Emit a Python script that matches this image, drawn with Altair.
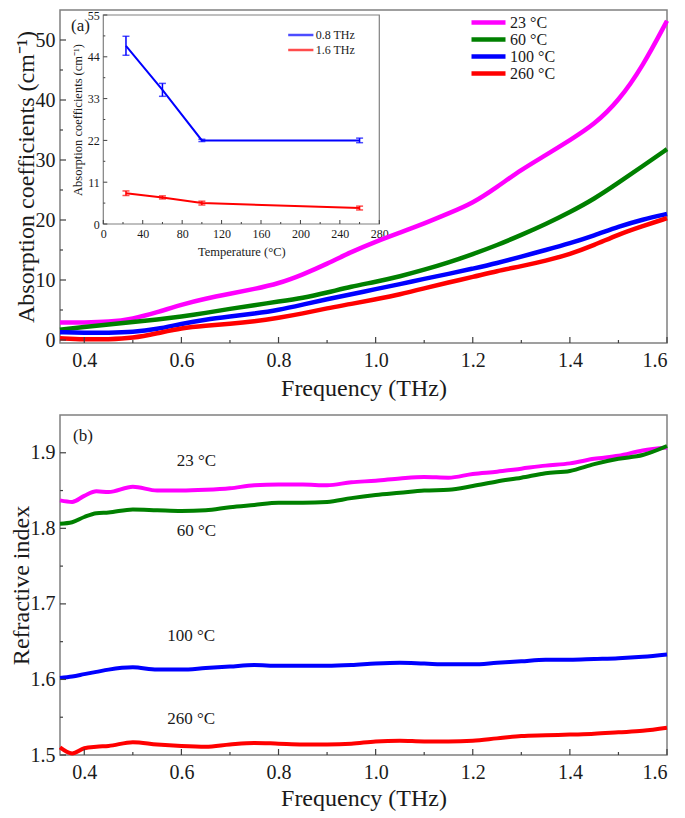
import altair as alt
import pandas as pd

# ---------------- data ----------------
freq_a = [0.35, 0.40, 0.45, 0.50, 0.55, 0.60, 0.65, 0.70, 0.75, 0.80, 0.85, 0.90, 0.95,
          1.00, 1.05, 1.10, 1.15, 1.20, 1.25, 1.30, 1.35, 1.40, 1.45, 1.50, 1.55, 1.60]
abs_23 = [2.9, 2.9, 3.0, 3.5, 4.6, 5.9, 6.9, 7.7, 8.5, 9.4, 10.9, 12.7, 14.7,
          16.4, 17.9, 19.4, 21.1, 22.8, 25.5, 28.4, 30.8, 33.3, 35.9, 39.8, 45.6, 53.2]
abs_60 = [1.7, 2.2, 2.6, 3.0, 3.4, 3.9, 4.5, 5.2, 5.8, 6.4, 7.0, 7.9, 8.9,
          9.7, 10.6, 11.7, 12.9, 14.3, 15.8, 17.5, 19.3, 21.3, 23.5, 26.2, 29.0, 31.8]
abs_100 = [1.3, 1.2, 1.2, 1.3, 1.8, 2.7, 3.4, 3.9, 4.4, 5.0, 5.9, 6.8, 7.6,
           8.5, 9.3, 10.2, 11.0, 11.9, 12.8, 13.9, 15.0, 16.1, 17.4, 18.9, 20.1, 21.0]
abs_260 = [0.3, 0.1, 0.1, 0.3, 1.1, 2.0, 2.4, 2.7, 3.1, 3.7, 4.4, 5.3, 6.0,
           6.8, 7.6, 8.6, 9.6, 10.5, 11.5, 12.3, 13.2, 14.3, 15.8, 17.6, 19.0, 20.3]

freq_b = [0.35, 0.375, 0.40, 0.425, 0.45, 0.50, 0.55, 0.60, 0.65, 0.70, 0.75, 0.80, 0.85, 0.90,
          0.95, 1.00, 1.05, 1.10, 1.15, 1.20, 1.25, 1.30, 1.35, 1.40, 1.45, 1.50, 1.55, 1.60]
n_23 = [1.837, 1.835, 1.843, 1.849, 1.848, 1.855, 1.850, 1.850, 1.851, 1.853, 1.857, 1.858, 1.858, 1.857,
        1.861, 1.863, 1.866, 1.868, 1.867, 1.872, 1.875, 1.879, 1.883, 1.886, 1.892, 1.896, 1.903, 1.907]
n_60 = [1.806, 1.808, 1.815, 1.820, 1.821, 1.825, 1.824, 1.823, 1.824, 1.828, 1.831, 1.834, 1.834, 1.835,
        1.840, 1.844, 1.847, 1.850, 1.851, 1.856, 1.862, 1.867, 1.873, 1.876, 1.885, 1.892, 1.897, 1.909]
n_100 = [1.602, 1.604, 1.607, 1.610, 1.613, 1.616, 1.613, 1.613, 1.615, 1.617, 1.619, 1.618, 1.618, 1.618,
         1.619, 1.621, 1.622, 1.621, 1.620, 1.620, 1.622, 1.624, 1.626, 1.626, 1.627, 1.628, 1.630, 1.633]
n_260 = [1.510, 1.502, 1.509, 1.511, 1.512, 1.517, 1.514, 1.512, 1.511, 1.514, 1.516, 1.515, 1.514, 1.514,
         1.515, 1.518, 1.519, 1.518, 1.518, 1.519, 1.522, 1.525, 1.526, 1.527, 1.528, 1.530, 1.532, 1.536]

series = ["\u200723 \u00b0C", "\u200760 \u00b0C", "100 \u00b0C", "260 \u00b0C"]
series_colors = ["#ff00ff", "#008000", "#0000ff", "#ff0000"]

# inset: absorption vs temperature
temps = [23, 60, 100, 260]
a08 = [46.9, 35.3, 22.0, 22.0]
e08 = [2.5, 1.7, 0.3, 0.6]
a16 = [8.1, 7.0, 5.5, 4.2]
e16 = [0.6, 0.4, 0.5, 0.5]
inset_series = ["0.8 THz", "1.6 THz"]
inset_colors = ["#0000ff", "#ff0000"]

# annotations of panel (b)
ann_text = ["23 \u00b0C", "60 \u00b0C", "100 \u00b0C", "260 \u00b0C"]
ann_f = [0.631, 0.631, 0.620, 0.620]
ann_n = [1.889, 1.797, 1.658, 1.547]

# tick values
x_major = [0.4, 0.6, 0.8, 1.0, 1.2, 1.4, 1.6]
x_minor = [0.5, 0.7, 0.9, 1.1, 1.3, 1.5]
ya_major = [0, 10, 20, 30, 40, 50]
ya_minor = [5, 15, 25, 35, 45]
yb_major = [1.5, 1.6, 1.7, 1.8, 1.9]
yb_minor = [1.55, 1.65, 1.75, 1.85]
ix_major = [0, 40, 80, 120, 160, 200, 240, 280]
ix_minor = [20, 60, 100, 140, 180, 220, 260]
iy_major = [0, 11, 22, 33, 44, 55]
iy_minor = [5.5, 16.5, 27.5, 38.5, 49.5]

# ---------------- layout / style ----------------
FONT = "Liberation Serif, Times New Roman, serif"
TXT = "#1a1a1a"
TICK = "#404040"
W = 607
HA = 333
HB = 340
IX0, IX1 = 43.3, 319.3   # inset pixel range (x) inside panel (a)
IYB, IYT = 214, 5        # inset pixel range (y) inside panel (a)

def long_df(xs, ys_list, names):
    rows = []
    for ys, nm in zip(ys_list, names):
        for x, y in zip(xs, ys):
            rows.append({"f": x, "v": y, "s": nm})
    return pd.DataFrame(rows)

def x_axis(tp):
    return alt.Axis(values=x_major, format=".1f", labelFontSize=20, labelPadding=7, labelFlush=8,
                    ticks=False, domain=False, grid=False, title="Frequency (THz)",
                    titleFontSize=24, titleFontWeight="normal", titlePadding=tp)

def tick_layers(xscale, xaxis, yscale, yaxis, H, xmaj, xmin, ymaj, ymin, L1=6, L2=3, sw=1.2):
    out = []
    for vals, L in ((xmaj, L1), (xmin, L2)):
        out.append(alt.Chart(pd.DataFrame({"t": vals})).mark_rule(color=TICK, strokeWidth=sw).encode(
            x=alt.X("t:Q", scale=xscale, axis=xaxis),
            y=alt.value(H), y2=alt.value(H - L)))
    for vals, L in ((ymaj, L1), (ymin, L2)):
        out.append(alt.Chart(pd.DataFrame({"t": vals})).mark_rule(color=TICK, strokeWidth=sw).encode(
            y=alt.Y("t:Q", scale=yscale, axis=yaxis),
            x=alt.value(0), x2=alt.value(L)))
    return out

# ---------------- panel (a) ----------------
sxa = alt.Scale(domain=[0.35, 1.6], nice=False, zero=False)
sya = alt.Scale(domain=[-0.5, 55], nice=False, zero=False)
axa_x = x_axis(6)
axa_y = alt.Axis(values=ya_major, labelFontSize=20, labelPadding=5, labelFlush=False, ticks=False,
                 domain=False, grid=False, title="Absorption coefficients (cm\u207b\u00b9)", titleFontSize=24,
                 titleFontWeight="normal", titlePadding=-3)
leg_a = alt.Legend(orient="none", legendX=409, legendY=4, title=None, symbolType="M-1,0H3",
                   symbolSize=289, symbolStrokeWidth=4.5, labelFontSize=16, labelOffset=19,
                   rowPadding=0, clipHeight=17, padding=0, labelColor=TXT)
col_a = alt.Color("s:N", scale=alt.Scale(domain=series, range=series_colors), legend=leg_a, sort=series)

df_a = long_df(freq_a, [abs_23, abs_60, abs_100, abs_260], series)
lines_a = alt.Chart(df_a).mark_line(strokeWidth=4.5, interpolate="basis").encode(
    x=alt.X("f:Q", scale=sxa, axis=axa_x),
    y=alt.Y("v:Q", scale=sya, axis=axa_y),
    color=col_a)
label_a = alt.Chart(pd.DataFrame({"t": ["(a)"]})).mark_text(
    align="left", baseline="middle", fontSize=17, font=FONT, color=TXT).encode(
    text="t:N", x=alt.value(11), y=alt.value(16))
main_a = alt.layer(lines_a, *tick_layers(sxa, axa_x, sya, axa_y, HA, x_major, x_minor, ya_major, ya_minor),
                   label_a)

# inset
isx = alt.Scale(domain=[0, 280], range=[IX0, IX1], nice=False, zero=False)
isy = alt.Scale(domain=[0, 55], range=[IYB, IYT], nice=False, zero=False)
iax_x = alt.Axis(orient="bottom", offset=-(HA - IYB), values=ix_major, labelFontSize=12, labelPadding=4,
                 labelFlush=False, ticks=False, domain=False, grid=False, title="Temperature (\u00b0C)",
                 titleFontSize=12.5, titleFontWeight="normal", titlePadding=6)
iax_y = alt.Axis(orient="left", offset=-IX0, values=iy_major, labelFontSize=12, labelPadding=4,
                 labelFlush=False, ticks=False, domain=False, grid=False,
                 title="Absorption coefficients (cm\u207b\u00b9)",
                 titleFontSize=12.5, titleFontWeight="normal", titlePadding=3)
leg_i = alt.Legend(orient="none", legendX=226.7, legendY=17.5, title=None, symbolType="M-1,0H3.2",
                   symbolSize=144, symbolStrokeWidth=2.5, labelFontSize=12, labelOffset=14,
                   rowPadding=0, clipHeight=15, padding=0, labelColor=TXT)
col_i = alt.Color("s:N", scale=alt.Scale(domain=inset_series, range=inset_colors), legend=leg_i,
                  sort=inset_series)

df_frame = pd.DataFrame({"x0": [0], "x1": [280], "y0": [0], "y1": [55]})
frame_i = alt.Chart(df_frame).mark_rect(fill="white", stroke="#808080", strokeWidth=1.2).encode(
    x=alt.X("x0:Q", scale=isx, axis=iax_x), x2="x1:Q",
    y=alt.Y("y0:Q", scale=isy, axis=iax_y), y2="y1:Q")

df_i = pd.DataFrame({
    "T": temps * 2,
    "a": a08 + a16,
    "lo": [v - e for v, e in zip(a08, e08)] + [v - e for v, e in zip(a16, e16)],
    "hi": [v + e for v, e in zip(a08, e08)] + [v + e for v, e in zip(a16, e16)],
    "s": [inset_series[0]] * 4 + [inset_series[1]] * 4,
})
xi = alt.X("T:Q", scale=isx, axis=iax_x)
line_i = alt.Chart(df_i).mark_line(strokeWidth=2).encode(
    x=xi, y=alt.Y("a:Q", scale=isy, axis=iax_y), color=col_i)
err_i = alt.Chart(df_i).mark_rule(strokeWidth=1.5).encode(
    x=xi, y=alt.Y("lo:Q", scale=isy, axis=iax_y), y2="hi:Q", color=col_i)
caplo_i = alt.Chart(df_i).mark_tick(orient="horizontal", size=7, thickness=1.5).encode(
    x=xi, y=alt.Y("lo:Q", scale=isy, axis=iax_y), color=col_i)
caphi_i = alt.Chart(df_i).mark_tick(orient="horizontal", size=7, thickness=1.5).encode(
    x=xi, y=alt.Y("hi:Q", scale=isy, axis=iax_y), color=col_i)

itick = []
for vals, L in ((ix_major, 4), (ix_minor, 2)):
    itick.append(alt.Chart(pd.DataFrame({"t": vals, "b": [0] * len(vals)})).mark_rule(
        color=TICK, strokeWidth=1, y2Offset=-L).encode(
        x=alt.X("t:Q", scale=isx, axis=iax_x),
        y=alt.Y("b:Q", scale=isy, axis=iax_y), y2="b:Q"))
for vals, L in ((iy_major, 4), (iy_minor, 2)):
    itick.append(alt.Chart(pd.DataFrame({"t": vals, "b": [0] * len(vals)})).mark_rule(
        color=TICK, strokeWidth=1, x2Offset=L).encode(
        y=alt.Y("t:Q", scale=isy, axis=iax_y),
        x=alt.X("b:Q", scale=isx, axis=iax_x), x2="b:Q"))

inset = alt.layer(frame_i, *itick, line_i, err_i, caplo_i, caphi_i)

panel_a = alt.layer(main_a, inset).resolve_scale(
    x="independent", y="independent", color="independent").properties(width=W, height=HA)

# ---------------- panel (b) ----------------
sxb = alt.Scale(domain=[0.35, 1.6], nice=False, zero=False)
syb = alt.Scale(domain=[1.5, 1.95], nice=False, zero=False)
axb_x = x_axis(4)
axb_y = alt.Axis(values=yb_major, format=".1f", labelFontSize=20, labelPadding=5, labelFlush=False,
                 ticks=False, domain=False, grid=False, title="Refractive index", titleFontSize=24,
                 titleFontWeight="normal", titlePadding=-3)
col_b = alt.Color("s:N", scale=alt.Scale(domain=series, range=series_colors), legend=None)
df_b = long_df(freq_b, [n_23, n_60, n_100, n_260], series)
lines_b = alt.Chart(df_b).mark_line(strokeWidth=4, interpolate="monotone").encode(
    x=alt.X("f:Q", scale=sxb, axis=axb_x),
    y=alt.Y("v:Q", scale=syb, axis=axb_y),
    color=col_b)
ann_b = alt.Chart(pd.DataFrame({"t": ann_text, "f": ann_f, "v": ann_n})).mark_text(
    fontSize=17, font=FONT, color=TXT, align="center", baseline="middle").encode(
    x=alt.X("f:Q", scale=sxb, axis=axb_x),
    y=alt.Y("v:Q", scale=syb, axis=axb_y),
    text="t:N")
label_b = alt.Chart(pd.DataFrame({"t": ["(b)"]})).mark_text(
    align="left", baseline="middle", fontSize=17, font=FONT, color=TXT).encode(
    text="t:N", x=alt.value(13), y=alt.value(21))
panel_b = alt.layer(lines_b, *tick_layers(sxb, axb_x, syb, axb_y, HB, x_major, x_minor, yb_major, yb_minor),
                    ann_b, label_b).properties(width=W, height=HB)

chart = alt.vconcat(panel_a, panel_b, spacing=72, bounds="flush").properties(
    padding={"left": 0, "top": 0, "right": 0, "bottom": 0}
).configure(font=FONT).configure_axis(
    labelFont=FONT, titleFont=FONT, labelColor=TXT, titleColor=TXT
).configure_legend(labelFont=FONT).configure_view(stroke="#808080", strokeWidth=1.5)

chart.save("out.html", embed_options={"renderer": "svg", "actions": False})
